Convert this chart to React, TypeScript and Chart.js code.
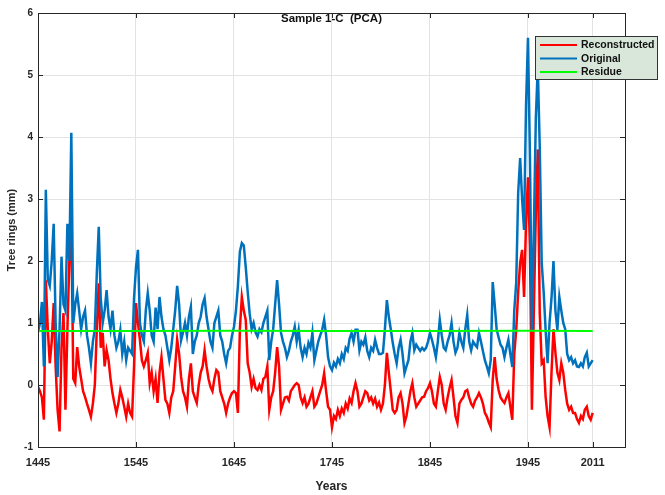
import React, { useEffect, useRef } from "react";
import { Chart, registerables } from "chart.js";

Chart.register(...registerables);

const years = [
  1445, 1447, 1449, 1451, 1453, 1455, 1457, 1459, 1461, 1463,
  1465, 1467, 1469, 1471, 1473, 1475, 1477, 1479, 1481, 1483,
  1485, 1487, 1489, 1491, 1493, 1495, 1497, 1499, 1501, 1503,
  1505, 1507, 1509, 1511, 1513, 1515, 1517, 1519, 1521, 1523,
  1525, 1527, 1529, 1531, 1533, 1535, 1537, 1539, 1541, 1543,
  1545, 1547, 1549, 1551, 1553, 1555, 1557, 1559, 1561, 1563,
  1565, 1567, 1569, 1571, 1573, 1575, 1577, 1579, 1581, 1583,
  1585, 1587, 1589, 1591, 1593, 1595, 1597, 1599, 1601, 1603,
  1605, 1607, 1609, 1611, 1613, 1615, 1617, 1619, 1621, 1623,
  1625, 1627, 1629, 1631, 1633, 1635, 1637, 1639, 1641, 1643,
  1645, 1647, 1649, 1651, 1653, 1655, 1657, 1659, 1661, 1663,
  1665, 1667, 1669, 1671, 1673, 1675, 1677, 1679, 1681, 1683,
  1685, 1687, 1689, 1691, 1693, 1695, 1697, 1699, 1701, 1703,
  1705, 1707, 1709, 1711, 1713, 1715, 1717, 1719, 1721, 1723,
  1725, 1727, 1729, 1731, 1733, 1735, 1737, 1739, 1741, 1743,
  1745, 1747, 1749, 1751, 1753, 1755, 1757, 1759, 1761, 1763,
  1765, 1767, 1769, 1771, 1773, 1775, 1777, 1779, 1781, 1783,
  1785, 1787, 1789, 1791, 1793, 1795, 1797, 1799, 1801, 1803,
  1805, 1807, 1809, 1811, 1813, 1815, 1817, 1819, 1821, 1823,
  1825, 1827, 1829, 1831, 1833, 1835, 1837, 1839, 1841, 1843,
  1845, 1847, 1849, 1851, 1853, 1855, 1857, 1859, 1861, 1863,
  1865, 1867, 1869, 1871, 1873, 1875, 1877, 1879, 1881, 1883,
  1885, 1887, 1889, 1891, 1893, 1895, 1897, 1899, 1901, 1903,
  1905, 1907, 1909, 1911, 1913, 1915, 1917, 1919, 1921, 1923,
  1925, 1927, 1929, 1931, 1933, 1935, 1937, 1939, 1941, 1943,
  1945, 1947, 1949, 1951, 1953, 1955, 1957, 1959, 1961, 1963,
  1965, 1967, 1969, 1971, 1973, 1975, 1977, 1979, 1981, 1983,
  1985, 1987, 1989, 1991, 1993, 1995, 1997, 1999, 2001, 2003,
  2005, 2007, 2009, 2011,
];

const original = [
  0.85, 1.0, 1.34, 0.3, 3.15, 1.7, 1.6, 2.0, 2.6, 1.0,
  0.13, 0.9, 2.07, 1.3, 1.2, 2.6, 2.0, 4.07, 1.0, 1.3,
  1.48, 1.2, 0.9, 1.1, 1.2, 0.8, 0.6, 0.35, 0.7, 0.9,
  1.8, 2.55, 1.4, 1.0, 1.2, 1.53, 1.1, 0.9, 1.2, 0.8,
  0.6, 0.7, 0.89, 0.5, 0.7, 0.4, 0.6, 0.55, 0.5, 1.4,
  1.9, 2.18, 1.0, 0.8, 0.7, 1.2, 1.48, 1.2, 0.8, 0.7,
  1.25, 0.9, 1.42, 1.1, 0.9, 0.8, 0.6, 0.4, 0.6, 0.9,
  1.2, 1.6, 1.3, 0.72, 0.85, 1.0, 0.8, 1.1, 1.26, 0.5,
  0.7, 0.8, 1.0, 1.1, 1.3, 1.4, 1.1, 0.9, 0.7, 0.6,
  1.0, 1.1, 1.2, 0.8, 0.7, 0.5, 0.35, 0.55, 0.6, 0.8,
  0.94, 1.2, 1.6, 2.15, 2.29, 2.25, 1.9, 1.5, 1.15, 0.9,
  1.0, 0.85, 0.78, 0.9, 0.85, 1.0, 1.1, 1.2, 0.4, 0.7,
  0.9, 1.3, 1.69, 1.3, 0.84, 0.7, 0.6, 0.45, 0.55, 0.7,
  0.8, 0.94, 0.7, 0.89, 0.6, 0.45, 0.6, 0.5, 0.68, 0.6,
  0.84, 0.4, 0.55, 0.7, 0.8, 0.89, 1.05, 0.8, 0.45, 0.3,
  0.24, 0.36, 0.3, 0.42, 0.35, 0.5, 0.42, 0.6, 0.55, 0.75,
  0.84, 0.7, 0.89, 0.89, 0.56, 0.7, 0.65, 0.77, 0.55, 0.45,
  0.6, 0.55, 0.73, 0.6, 0.5, 0.5, 0.52, 0.9, 1.37, 1.1,
  0.9, 0.68, 0.5, 0.35, 0.6, 0.73, 0.5, 0.19, 0.3, 0.4,
  0.7, 0.84, 0.56, 0.65, 0.6, 0.55, 0.6, 0.56, 0.6, 0.7,
  0.84, 0.73, 0.6, 0.45, 0.7, 1.05, 0.8, 0.6, 0.56, 0.7,
  0.8, 1.0, 0.7, 0.52, 0.6, 0.84, 0.7, 0.6, 0.9, 1.13,
  0.7, 0.56, 0.7, 0.65, 0.61, 0.84, 0.7, 0.55, 0.4, 0.3,
  0.19, 0.4, 1.66, 1.3, 0.9, 0.77, 0.65, 0.6, 0.45, 0.6,
  0.73, 0.5, 0.29, 1.2, 1.65, 3.1, 3.66, 3.0, 2.5, 4.5,
  5.6, 3.68, 0.89, 2.5, 4.3, 5.13, 3.84, 1.97, 1.5, 0.89,
  0.35, 1.0, 1.4, 2.0, 1.2, 0.89, 1.42, 1.2, 1.0, 0.9,
  0.5, 0.4, 0.45, 0.35, 0.4, 0.3, 0.29, 0.35, 0.3, 0.45,
  0.52, 0.3, 0.35, 0.4,
];

const reconstructed = [
  -0.03, -0.1, -0.2, -0.56, 1.69, 0.9, 0.35, 0.7, 1.32, 0.3,
  -0.4, -0.75, 0.6, 1.16, -0.4, 0.9, 2.0, 2.66, 0.1, 0.03,
  0.61, 0.3, 0.1, -0.1, -0.19, -0.3, -0.4, -0.51, -0.3, 0.0,
  0.9, 1.64, 0.6, 0.84, 0.3, 0.56, 0.4, 0.1, -0.13, -0.3,
  -0.45, -0.3, -0.08, -0.2, -0.35, -0.51, -0.3, -0.45, -0.51, 0.3,
  1.32, 1.0, 0.73, 0.4, 0.3, 0.4, 0.52, 0.03, 0.2, -0.1,
  0.1, -0.29, 0.2, 0.45, 0.1, -0.24, -0.3, -0.45, -0.2, -0.1,
  0.3, 0.73, 0.5, 0.13, -0.1, -0.2, -0.35, 0.1, 0.35, -0.1,
  -0.2, -0.29, 0.0, 0.2, 0.3, 0.56, 0.3, 0.1, -0.03, -0.1,
  0.1, 0.24, 0.2, -0.1, -0.2, -0.3, -0.45, -0.3, -0.2, -0.13,
  -0.1, -0.13, -0.45, 0.9, 1.42, 1.2, 1.05, 0.35, 0.2, -0.03,
  0.1, -0.05, -0.08, 0.0, -0.08, 0.1, 0.13, 0.3, -0.4, -0.2,
  -0.1, 0.2, 0.61, 0.3, -0.4, -0.3, -0.2, -0.19, -0.25, -0.1,
  -0.05, 0.0, 0.03, 0.0, -0.2, -0.29, -0.2, -0.35, -0.3, -0.2,
  -0.1, -0.35, -0.3, -0.2, -0.1, 0.0, 0.19, -0.1, -0.35, -0.4,
  -0.68, -0.5, -0.55, -0.4, -0.5, -0.38, -0.45, -0.3, -0.38, -0.22,
  -0.29, -0.1, 0.03, -0.1, -0.35, -0.3, -0.2, -0.1, -0.13, -0.25,
  -0.2, -0.3, -0.22, -0.35, -0.28, -0.4, -0.3, 0.0, 0.52, 0.2,
  -0.1, -0.4, -0.45, -0.4, -0.2, -0.13, -0.3, -0.61, -0.5, -0.3,
  -0.1, 0.03, -0.2, -0.35, -0.3, -0.25, -0.2, -0.19, -0.1, -0.05,
  0.03, -0.1, -0.3, -0.35, -0.1, 0.13, 0.0, -0.3, -0.4, -0.2,
  -0.05, 0.08, -0.2, -0.5, -0.61, -0.3, -0.24, -0.2, -0.1, -0.08,
  -0.2, -0.3, -0.35, -0.25, -0.2, -0.13, -0.2, -0.3, -0.45, -0.51,
  -0.6, -0.68, 0.08, 0.45, 0.1, -0.08, -0.2, -0.25, -0.29, -0.2,
  -0.13, -0.35, -0.56, 0.5, 0.89, 1.5, 1.97, 2.18, 1.42, 2.6,
  3.35, 2.23, -0.4, 1.2, 2.77, 3.8, 1.16, 0.35, 0.4, -0.19,
  -0.5, -0.68, 0.2, 0.9, 0.52, 0.2, 0.08, 0.35, 0.2, -0.08,
  -0.3, -0.4, -0.35, -0.45, -0.45, -0.55, -0.61, -0.5, -0.55, -0.4,
  -0.35, -0.5, -0.56, -0.45,
];

const residueYears = [1445, 1545, 1645, 1745, 1845, 1945, 2011];
const residue = [0.87, 0.87, 0.875, 0.87, 0.87, 0.875, 0.87];

const xTicks = [1445, 1545, 1645, 1745, 1845, 1945, 2011];
const yTicks = [-1, 0, 1, 2, 3, 4, 5, 6];

const seriesNames = ["Reconstructed", "Original", "Residue"];
const seriesColors = ["#ff0000", "#0072bd", "#00ff00"];

const chartTitle = "Sample 1-C  (PCA)";
const xTitle = "Years";
const yTitle = "Tree rings (mm)";

const FONT = "'Liberation Sans', Arial, sans-serif";
const TEXT = "#262626";

const decorPlugin = {
  id: "decor",
  afterDraw(chart: any) {
    const { ctx, chartArea: a, scales } = chart;
    ctx.save();
    ctx.strokeStyle = "#262626";
    ctx.lineWidth = 1;
    ctx.strokeRect(Math.round(a.left) + 0.5, Math.round(a.top) + 0.5, Math.round(a.right - a.left), Math.round(a.bottom - a.top));
    ctx.beginPath();
    for (const v of xTicks) {
      const x = Math.round(scales.x.getPixelForValue(v)) + 0.5;
      ctx.moveTo(x, a.bottom);
      ctx.lineTo(x, a.bottom - 5);
      ctx.moveTo(x, a.top);
      ctx.lineTo(x, a.top + 5);
    }
    for (const v of yTicks) {
      const y = Math.round(scales.y.getPixelForValue(v)) + 0.5;
      ctx.moveTo(a.left, y);
      ctx.lineTo(a.left + 5, y);
      ctx.moveTo(a.right, y);
      ctx.lineTo(a.right - 5, y);
    }
    ctx.stroke();
    ctx.fillStyle = "#111";
    ctx.font = `bold 11.5px ${FONT}`;
    ctx.textAlign = "center";
    ctx.textBaseline = "middle";
    ctx.fillText(chartTitle, (a.left + a.right) / 2, a.top + 6);
    const lx = 535.5, ly = 36.5, lw = 122, lh = 43;
    ctx.fillStyle = "#d8e7da";
    ctx.fillRect(lx, ly, lw, lh);
    ctx.strokeStyle = "#333";
    ctx.strokeRect(lx, ly, lw, lh);
    ctx.font = `bold 10.5px ${FONT}`;
    ctx.textAlign = "left";
    const rows = [45, 58.5, 72];
    seriesNames.forEach((name, i) => {
      ctx.strokeStyle = seriesColors[i];
      ctx.lineWidth = 2;
      ctx.beginPath();
      ctx.moveTo(540, rows[i]);
      ctx.lineTo(577, rows[i]);
      ctx.stroke();
      ctx.fillStyle = "#111";
      ctx.fillText(name, 581, rows[i] + 0.5);
    });
    ctx.restore();
  },
};

export default function App() {
  const ref = useRef<HTMLCanvasElement | null>(null);
  useEffect(() => {
    if (!ref.current) return;
    const chart = new Chart(ref.current, {
      type: "line",
      data: {
        datasets: [
          {
            label: seriesNames[0],
            data: years.map((y, i) => ({ x: y, y: reconstructed[i] })),
            borderColor: seriesColors[0],
            borderWidth: 2.5,
            pointRadius: 0,
            tension: 0,
            order: 3,
          },
          {
            label: seriesNames[1],
            data: years.map((y, i) => ({ x: y, y: original[i] })),
            borderColor: seriesColors[1],
            borderWidth: 2.5,
            pointRadius: 0,
            tension: 0,
            order: 2,
          },
          {
            label: seriesNames[2],
            data: residueYears.map((y, i) => ({ x: y, y: residue[i] })),
            borderColor: seriesColors[2],
            borderWidth: 2,
            pointRadius: 0,
            tension: 0,
            order: 1,
          },
        ],
      },
      options: {
        responsive: false,
        animation: false,
        events: [],
        layout: { padding: { top: 13, right: 40, bottom: 0, left: 0 } },
        plugins: { legend: { display: false }, tooltip: { enabled: false }, title: { display: false } },
        scales: {
          x: {
            type: "linear",
            min: 1445,
            max: 2044,
            afterBuildTicks: (s: any) => {
              s.ticks = xTicks.map((v) => ({ value: v }));
            },
            afterFit: (s: any) => {
              s.height = 48;
            },
            ticks: {
              autoSkip: false,
              maxRotation: 0,
              padding: 9,
              color: TEXT,
              font: { family: FONT, size: 11, weight: "bold" },
              callback: (v: any) => String(v),
            },
            grid: { color: "#e3e3e3", drawTicks: false },
            border: { display: false },
            title: {
              display: true,
              text: xTitle,
              color: TEXT,
              font: { family: FONT, size: 12, weight: "bold" },
              padding: { top: 0, bottom: 1.5 },
            },
          },
          y: {
            min: -1,
            max: 6,
            afterBuildTicks: (s: any) => {
              s.ticks = yTicks.map((v) => ({ value: v }));
            },
            afterFit: (s: any) => {
              s.width = 38;
            },
            ticks: {
              padding: 5,
              color: TEXT,
              font: { family: FONT, size: 10, weight: "bold" },
              callback: (v: any) => String(v),
            },
            grid: { color: "#e3e3e3", drawTicks: false },
            border: { display: false },
            title: {
              display: true,
              text: yTitle,
              color: TEXT,
              font: { family: FONT, size: 11, weight: "bold" },
              padding: { top: 5, bottom: 0 },
            },
          },
        },
      },
      plugins: [decorPlugin],
    } as any);
    return () => chart.destroy();
  }, []);
  return (
    <div style={{ position: "fixed", left: 0, top: 0, width: 665, height: 495, background: "#fff" }}>
      <canvas ref={ref} width={665} height={495} style={{ display: "block" }} />
    </div>
  );
}
